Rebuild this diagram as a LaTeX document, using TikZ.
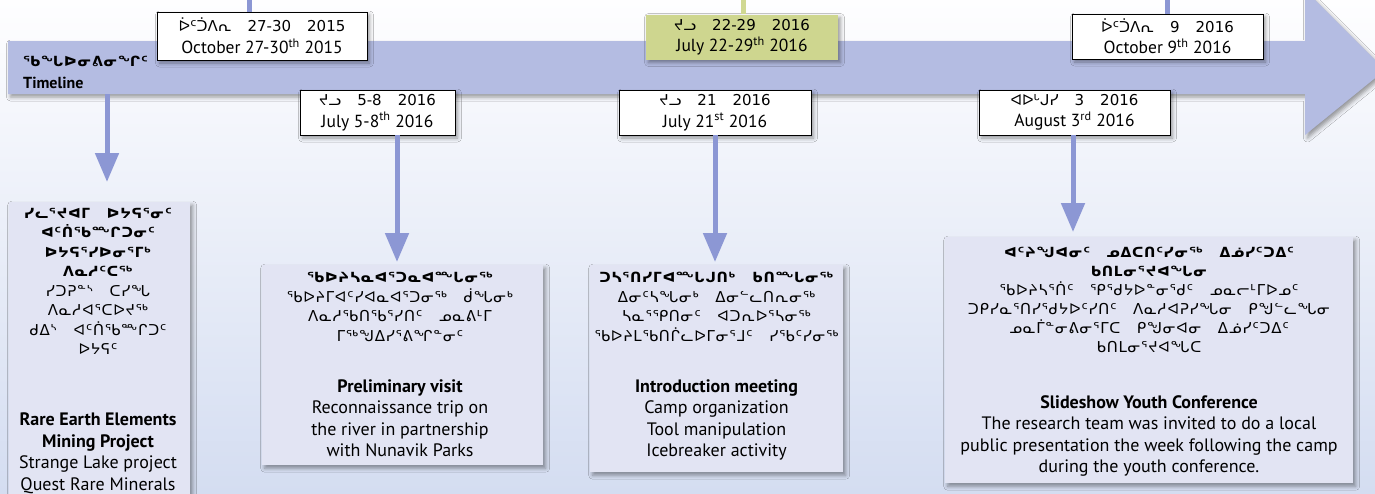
\documentclass[tikz,border=0pt]{standalone}
\usepackage{fontspec}
\setmainfont{PT Sans}
\newfontfamily\syl[WordSpace=3,LetterSpace=5]{DejaVu Sans}
\newfontfamily\syldate{DejaVu Sans}
\usepackage{tikz}
\usetikzlibrary{positioning,arrows.meta,shadows.blur}

\definecolor{bandblue}{RGB}{180,188,226}
\definecolor{linkblue}{RGB}{140,151,212}
\definecolor{cardfill}{RGB}{226,228,243}
\definecolor{greenbox}{RGB}{206,214,143}
\definecolor{greenline}{RGB}{208,216,146}
\definecolor{bgtop}{RGB}{254,254,255}
\definecolor{bgmid}{RGB}{234,238,248}
\definecolor{bgbottom}{RGB}{212,221,241}

\begin{document}
\begin{tikzpicture}[x=1pt,y=-1pt,
softshadow/.style={blur shadow={shadow xshift=2.5pt,shadow yshift=-3pt,shadow blur radius=4pt,shadow opacity=40}},
datebox/.style={
rectangle,draw=black,line width=0.7pt,fill=white,
align=center,inner sep=0pt,
minimum width=191pt,minimum height=45pt,
font=\fontsize{17.5}{21.5}\selectfont,softshadow
},
greendate/.style={datebox,draw=none,fill=greenbox},
card/.style={rectangle,fill=cardfill,inner sep=0pt,anchor=north west,softshadow},
syltext/.style={align=center,inner sep=0pt,anchor=north,font=\syl\fontsize{15}{19.5}\selectfont},
entext/.style={align=center,inner sep=0pt,anchor=north,font=\fontsize{18}{21.5}\selectfont},
connector/.style={draw=linkblue,line width=5pt},
arrow/.style={connector,-{Triangle[width=23pt,length=29pt]}}
]

\useasboundingbox (0,0) rectangle (1375,493);
\fill[top color=bgtop,middle color=bgmid,bottom color=bgbottom] (0,0) rectangle (1375,493);

% timeline band
\fill[bandblue,softshadow] (8,41) -- (1305,41) -- (1305,-10) -- (1385,70) -- (1305,135) -- (1305,94) -- (8,94) -- cycle;
\coordinate (bandfoot) at (107,94);

\node[anchor=base west,inner sep=0pt,font=\syl\bfseries\fontsize{14}{16}\selectfont] (tlsyl) at (23,66) {ᖃᖓᐅᓂᕕᓂᖏᑦ};
\node[anchor=base west,inner sep=0pt,font=\bfseries\fontsize{16}{19}\selectfont] (tltext) at (23,88) {Timeline};

% lines up to the top edge
\coordinate (oct15top) at (249,0);
\coordinate (jul22top) at (743,0);
\coordinate (oct16top) at (1167,0);

% date boxes
\node[datebox,minimum width=210pt,minimum height=48pt] (oct15) at (262,36)
{{\syldate\fontsize{15}{21}\selectfont ᐆᑦᑑᐱᕆ\hspace{16pt}27-30\hspace{16pt}2015}\\October 27-30\textsuperscript{th} 2015};
\node[datebox,minimum width=155pt] (jul5) at (377.5,112.5)
{{\syldate\fontsize{15}{21}\selectfont ᔪᓗ\hspace{16pt}5-8\hspace{16pt}2016}\\July 5-8\textsuperscript{th} 2016};
\node[greendate,minimum width=192pt] (jul22) at (742,37)
{{\syldate\fontsize{15}{21}\selectfont ᔪᓗ\hspace{16pt}22-29\hspace{16pt}2016}\\July 22-29\textsuperscript{th} 2016};
\node[datebox,minimum width=192pt] (jul21) at (715,112.5)
{{\syldate\fontsize{15}{21}\selectfont ᔪᓗ\hspace{16pt}21\hspace{16pt}2016}\\July 21\textsuperscript{st} 2016};
\node[datebox] (aug3) at (1074.5,112.5)
{{\syldate\fontsize{15}{21}\selectfont ᐊᐅᒡᒍᓯ\hspace{16pt}3\hspace{16pt}2016}\\August 3\textsuperscript{rd} 2016};
\node[datebox] (oct16) at (1167.5,36.5)
{{\syldate\fontsize{15}{21}\selectfont ᐆᑦᑑᐱᕆ\hspace{16pt}9\hspace{16pt}2016}\\October 9\textsuperscript{th} 2016};

\draw[connector] (oct15top) -- (oct15top |- oct15.north);
\draw[connector,draw=greenline] (jul22top) -- (jul22top |- jul22.north);
\draw[connector] (oct16top) -- (oct16top |- oct16.north);

% event cards
\node[card,minimum width=181pt,minimum height=300pt] (rare) at (9,202) {};
\node[card,minimum width=281pt,minimum height=200pt] (prelim) at (262,265) {};
\node[card,minimum width=253pt,minimum height=207pt] (intro) at (590,265) {};
\node[card,minimum width=408pt,minimum height=246pt] (slides) at (945,237) {};

\draw[arrow,shorten >=20pt] (bandfoot) -- (bandfoot |- rare.north);
\draw[arrow,shorten >=3pt] ([xshift=19.5pt]jul5.south) -- ([xshift=19.5pt]jul5.south |- prelim.north);
\draw[arrow,shorten >=3pt] (jul21.south) -- (jul21.south |- intro.north);
\draw[arrow,shorten >=5pt] ([xshift=-1.5pt]aug3.south) -- ([xshift=-1.5pt]aug3.south |- slides.north);

% card texts
\node[syltext] (raresyl) at (98,208)
{{\bfseries\fontsize{14}{19.5}\selectfont ᓯᓚᕐᔪᐊᒥ ᐅᔭᕋᕐᓂᑦ}\\{\bfseries\fontsize{14}{19.5}\selectfont ᐊᑦᑏᖃᖖᒋᑐᓂᑦ}\\{\bfseries\fontsize{14}{19.5}\selectfont ᐅᔭᕋᕐᓯᐅᓂᕐᒥᒃ}\\{\bfseries\fontsize{14}{19.5}\selectfont ᐱᓇᓱᑦᑕᖅ}\\ᓯᑐᕈᓐᔅ ᑕᓯᖓ\\ᐱᓇᓱᐊᕐᑕᐅᔪᖅ\\ᑯᐃᔅ ᐊᑦᑏᖃᖖᒋᑐᑦ\\ᐅᔭᕋᑦ};
\node[entext] (rareen) at (98,413)
{\textbf{Rare Earth Elements}\\\textbf{Mining Project}\\Strange Lake project\\Quest Rare Minerals};

\node[syltext] (prelimsyl) at (400,272)
{{\bfseries\fontsize{14}{19.5}\selectfont ᖃᐅᔨᓴᓇᐊᕐᑐᓇᐊᖖᒐᓂᖅ}\\ᖃᐅᔨᒥᐊᑦᓯᐊᓇᐊᕐᑐᓂᖅ ᑰᖓᓂᒃ\\ᐱᓇᓱᖃᑎᖃᕐᓯᑎᑦ ᓄᓇᕕᒻᒥ\\ᒥᖅᖑᐃᓯᕐᕕᖏᓐᓂᑦ};
\node[entext] (prelimen) at (400,379)
{\textbf{Preliminary visit}\\Reconnaissance trip on\\the river in partnership\\with Nunavik Parks};

\node[syltext] (introsyl) at (716.5,272)
{{\bfseries\fontsize{14}{19.5}\selectfont ᑐᓴᕐᑎᓯᒥᐊᖖᒐᒍᑎᒃ ᑲᑎᖖᒐᓂᖅ}\\ᐃᓂᑦᓴᖓᓂᒃ ᐃᓂᓪᓚᑎᕆᓂᖅ\\ᓴᓇᕐᕿᑎᓂᑦ ᐊᑐᕆᐅᕐᓴᓂᖅ\\ᖃᐅᔨᒪᖃᑎᒌᓚᐅᒥᓂᕐᒧᑦ ᓯᖃᑦᓯᓂᖅ};
\node[entext] (introen) at (716.5,379)
{\textbf{Introduction meeting}\\Camp organization\\Tool manipulation\\Icebreaker activity};

\node[syltext,font=\syl\fontsize{15}{19}\selectfont] (slidessyl) at (1149,247)
{{\bfseries\fontsize{14}{19}\selectfont ᐊᑦᔨᖑᐊᓂᑦ ᓄᐃᑕᑎᑦᓯᓂᖅ ᐃᓅᓯᑦᑐᐃᑦ}\\{\bfseries\fontsize{14}{19}\selectfont ᑲᑎᒪᓂᕐᔪᐊᖓᓂ}\\ᖃᐅᔨᓴᕐᑏᑦ ᕿᕐᑯᔭᐅᓐᓂᕐᑯᑦ ᓄᓇᓕᒻᒥᐅᓄᑦ\\ᑐᑭᓯᓇᕐᑎᓯᕐᑯᔭᐅᑦᓯᑎᑦ ᐱᓇᓱᐊᕈᓯᖓᓂ ᑭᖑᓪᓚᖓᓂ\\ᓄᓇᒦᓐᓂᕕᓂᕐᒥᑕ ᑭᖑᓂᐊᓂ ᐃᓅᓯᑦᑐᐃᑦ\\ᑲᑎᒪᓂᕐᔪᐊᖓᑕ};
\node[entext] (slidesen) at (1149,395)
{\textbf{Slideshow Youth Conference}\\The research team was invited to do a local\\public presentation the week following the camp\\during the youth conference.};

\end{tikzpicture}
\end{document}
